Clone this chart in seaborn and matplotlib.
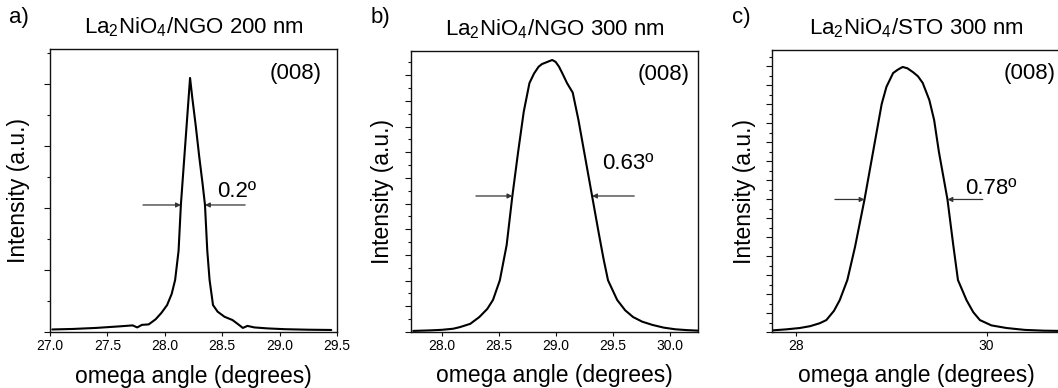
import numpy as np
import pandas as pd
import matplotlib
matplotlib.use("Agg")
import matplotlib.pyplot as plt
import seaborn as sns
from matplotlib.ticker import MultipleLocator, FormatStrFormatter, NullFormatter, FixedLocator

# ---------------- data ----------------
x_a = [27.02, 27.20, 27.40, 27.60, 27.72, 27.76, 27.80, 27.86, 27.92, 27.97, 28.02, 28.06,
       28.09, 28.12, 28.14, 28.16, 28.18, 28.20, 28.22, 28.24, 28.27, 28.30, 28.33, 28.35,
       28.37, 28.39, 28.42, 28.46, 28.52, 28.59, 28.64, 28.68, 28.72, 28.78, 28.90, 29.05,
       29.25, 29.45]
h_a = [0.010, 0.012, 0.016, 0.022, 0.026, 0.018, 0.028, 0.030, 0.050, 0.075, 0.106, 0.150,
       0.205, 0.320, 0.500, 0.625, 0.750, 0.875, 1.000, 0.920, 0.810, 0.690, 0.580, 0.500,
       0.320, 0.205, 0.106, 0.080, 0.060, 0.047, 0.030, 0.016, 0.024, 0.018, 0.014, 0.011,
       0.009, 0.008]

x_b = [27.75, 27.90, 28.00, 28.10, 28.16, 28.25, 28.33, 28.40, 28.45, 28.51, 28.57, 28.62,
       28.67, 28.72, 28.77, 28.81, 28.85, 28.88, 28.91, 28.94, 28.97, 29.00, 29.03, 29.06,
       29.10, 29.15, 29.20, 29.26, 29.32, 29.38, 29.42, 29.46, 29.54, 29.61, 29.68, 29.76,
       29.85, 29.95, 30.05, 30.15, 30.25]
h_b = [0.004, 0.006, 0.008, 0.012, 0.018, 0.030, 0.055, 0.085, 0.118, 0.190, 0.320, 0.500,
       0.660, 0.810, 0.915, 0.950, 0.975, 0.985, 0.990, 0.995, 1.000, 0.993, 0.975, 0.950,
       0.915, 0.880, 0.780, 0.640, 0.500, 0.360, 0.270, 0.190, 0.118, 0.080, 0.055, 0.038,
       0.026, 0.016, 0.010, 0.007, 0.005]

x_c = [27.75, 27.90, 28.04, 28.15, 28.25, 28.32, 28.40, 28.46, 28.54, 28.62, 28.72, 28.78,
       28.84, 28.90, 28.95, 29.02, 29.07, 29.12, 29.17, 29.23, 29.28, 29.33, 29.40, 29.45,
       29.50, 29.59, 29.65, 29.70, 29.79, 29.86, 29.93, 30.05, 30.21, 30.40, 30.60, 30.80]
h_c = [0.006, 0.010, 0.015, 0.022, 0.033, 0.045, 0.080, 0.120, 0.196, 0.320, 0.500, 0.620,
       0.740, 0.860, 0.925, 0.977, 0.990, 1.000, 0.995, 0.980, 0.965, 0.940, 0.875, 0.800,
       0.680, 0.500, 0.330, 0.196, 0.120, 0.075, 0.045, 0.025, 0.015, 0.008, 0.005, 0.004]

titles = [r"La$_\mathregular{2}$NiO$_\mathregular{4}$/NGO 200 nm",
          r"La$_\mathregular{2}$NiO$_\mathregular{4}$/NGO 300 nm",
          r"La$_\mathregular{2}$NiO$_\mathregular{4}$/STO 300 nm"]
panel_letters = ["a)", "b)", "c)"]
fwhm_labels = ["0.2º", "0.63º", "0.78º"]
reflection = "(008)"
# half-maximum arrow positions (tail, tip) in degrees
arrows_left = [(27.81, 28.14), (28.30, 28.62), (28.41, 28.72)]
arrows_right = [(28.70, 28.35), (29.69, 29.32), (29.96, 29.59)]
fwhm_text_pos = [(28.46, 0.53), (29.41, 0.60), (29.78, 0.52)]

# ---------------- style ----------------
sns.set_theme(style="ticks")
plt.rcParams["font.family"] = ["Liberation Sans", "DejaVu Sans"]
plt.rcParams["mathtext.fontset"] = "custom"
plt.rcParams["mathtext.rm"] = "Liberation Sans"
plt.rcParams["mathtext.it"] = "Liberation Sans:italic"
plt.rcParams["mathtext.bf"] = "Liberation Sans:bold"
plt.rcParams["text.color"] = "black"
plt.rcParams["axes.labelcolor"] = "black"

W, H = 1058, 388
fig = plt.figure(figsize=(W / 100, H / 100), dpi=100)


def add_ax(l, t, r, b):
    return fig.add_axes([l / W, 1 - b / H, (r - l) / W, (b - t) / H])


axes = [add_ax(50, 49, 337, 332), add_ax(411, 51, 698, 332), add_ax(772, 50, 1060, 332)]
xlims = [(27.0, 29.5), (27.73, 30.25), (27.75, 30.77)]
ylims = [(0, 1.114), (0, 1.033), (0, 1.064)]
ymin_step = [0.122, 0.0472, 0.0358]
xs = [x_a, x_b, x_c]
hs = [h_a, h_b, h_c]
letter_x = [9, 371, 732]
ylab_x = [-0.07, -0.06, -0.055]
r008 = [(0.948, 0.912), (0.972, 0.918), (0.985, 0.915)]

spine_col = "#111111"
for i, ax in enumerate(axes):
    df = pd.DataFrame({"omega": xs[i], "intensity": hs[i]})
    sns.lineplot(data=df, x="omega", y="intensity", ax=ax, color="black", lw=1.5)
    ax.set_xlim(*xlims[i])
    ax.set_ylim(*ylims[i])
    for s in ax.spines.values():
        s.set_visible(True)
        s.set_color(spine_col)
        s.set_linewidth(1.0)
    if i < 2:
        ax.xaxis.set_major_locator(MultipleLocator(0.5))
        ax.xaxis.set_major_formatter(FormatStrFormatter("%.1f"))
    else:
        ax.xaxis.set_major_locator(FixedLocator([28, 30]))
        ax.xaxis.set_major_formatter(FormatStrFormatter("%d"))
    ax.yaxis.set_major_locator(MultipleLocator(2 * ymin_step[i]))
    ax.yaxis.set_minor_locator(MultipleLocator(ymin_step[i]))
    ax.yaxis.set_major_formatter(NullFormatter())
    ax.tick_params(axis="x", direction="out", length=3, width=0.8, labelsize=10,
                   pad=2, colors=spine_col, labelcolor="black")
    ax.tick_params(axis="y", which="major", direction="out", length=4, width=0.8,
                   colors=spine_col)
    ax.tick_params(axis="y", which="minor", direction="out", length=2.5, width=0.8,
                   colors=spine_col)
    ax.set_xlabel("omega angle (degrees)", fontsize=16.5)
    ax.xaxis.set_label_coords(0.5, -0.115)
    ax.set_ylabel("Intensity (a.u.)", fontsize=16.5)
    ax.yaxis.set_label_coords(ylab_x[i], 0.5)
    ax.set_title(titles[i], fontsize=16, pad=11)
    ax.text(r008[i][0], r008[i][1], reflection, transform=ax.transAxes, fontsize=16,
            ha="right", va="center")
    arrow_kw = dict(arrowstyle="-|>", color="#333333", lw=0.9, mutation_scale=7,
                    shrinkA=0, shrinkB=0)
    for tail, tip in (arrows_left[i], arrows_right[i]):
        ax.annotate("", xy=(tip, 0.5), xytext=(tail, 0.5), arrowprops=arrow_kw)
    ax.text(fwhm_text_pos[i][0], fwhm_text_pos[i][1], fwhm_labels[i], fontsize=16,
            ha="left", va="baseline")
    fig.text(letter_x[i] / W, 1 - 17 / H, panel_letters[i], fontsize=16,
             ha="left", va="center")

fig.savefig("out.png", dpi=100)
